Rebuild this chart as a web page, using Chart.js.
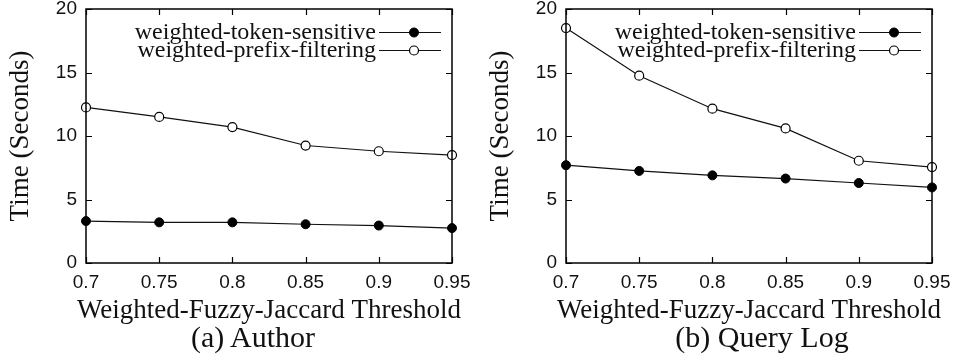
<!DOCTYPE html>
<html>
<head>
<meta charset="utf-8">
<script src="https://cdn.jsdelivr.net/npm/chart.js@4"></script>
<style>
  body { margin: 0; background: #fff; }
  #wrap { position: relative; width: 955px; height: 362px; overflow: hidden; }
  canvas { position: absolute; top: 0; }
  .caption { position: absolute; font-family: "Liberation Serif", serif; font-size: 30px; color: #111;
             transform: translate(-50%, -50%); white-space: nowrap; }
</style>
</head>
<body>
<div id="wrap">
  <canvas id="chartA" width="478" height="362" style="left:0px"></canvas>
  <canvas id="chartB" width="475" height="362" style="left:480px"></canvas>
  <div class="caption" style="left:253px; top:337px">(a) Author</div>
  <div class="caption" style="left:762px; top:337px">(b) Query Log</div>
</div>
<script>
// values
const thresholds = ['0.7', '0.75', '0.8', '0.85', '0.9', '0.95'];
const yTicks = [0, 5, 10, 15, 20];
const seriesNames = ['weighted-token-sensitive', 'weighted-prefix-filtering'];
const xTitle = 'Weighted-Fuzzy-Jaccard Threshold';
const yTitle = 'Time (Seconds)';

const authorToken  = [3.3, 3.2, 3.2, 3.05, 2.95, 2.75];
const authorPrefix = [12.25, 11.5, 10.7, 9.25, 8.8, 8.5];
const queryToken   = [7.7, 7.25, 6.9, 6.65, 6.3, 5.95];
const queryPrefix  = [18.5, 14.75, 12.15, 10.6, 8.05, 7.55];

const SANS = '"Liberation Sans", Arial, sans-serif';
const SERIF = '"Liberation Serif", "Times New Roman", serif';

// frame + inward tick marks on all four sides (gnuplot style), plus the x title
// (drawn here so chart.js doesn't squeeze it to the plot width)
const framePlugin = {
  id: 'frame',
  afterDraw(chart) {
    const {ctx, chartArea: a, scales} = chart;
    ctx.save();
    ctx.strokeStyle = '#000';
    ctx.lineWidth = 1.2;
    ctx.beginPath();
    scales.x.ticks.forEach((t, i) => {
      const px = Math.round(scales.x.getPixelForTick(i)) + 0.5;
      ctx.moveTo(px, a.bottom); ctx.lineTo(px, a.bottom - 6);
      ctx.moveTo(px, a.top); ctx.lineTo(px, a.top + 6);
    });
    scales.y.ticks.forEach((t, i) => {
      const py = Math.round(scales.y.getPixelForTick(i)) + 0.5;
      ctx.moveTo(a.left, py); ctx.lineTo(a.left + 6, py);
      ctx.moveTo(a.right, py); ctx.lineTo(a.right - 6, py);
    });
    ctx.stroke();
    ctx.lineWidth = 1.5;
    ctx.strokeRect(a.left, a.top, a.right - a.left, a.bottom - a.top);

    ctx.fillStyle = '#111';
    ctx.font = '27px ' + SERIF;
    ctx.textAlign = 'center';
    ctx.textBaseline = 'middle';
    ctx.fillText(xTitle, (a.left + a.right) / 2, 311);
    ctx.restore();
  }
};

// key in the top right corner: text right-aligned, sample on the right
const keyPlugin = {
  id: 'key',
  afterDraw(chart) {
    const {ctx} = chart;
    const textRight = 376, lineL = 379, lineR = 441, markX = 414;
    const rows = [32, 50];
    ctx.save();
    ctx.font = '24px ' + SERIF;
    ctx.textAlign = 'right';
    ctx.textBaseline = 'middle';
    chart.data.datasets.forEach((ds, i) => {
      const y = rows[i];
      ctx.fillStyle = '#111';
      ctx.fillText(ds.label, textRight, y + 1);
      ctx.strokeStyle = ds.borderColor;
      ctx.lineWidth = 1.2;
      ctx.beginPath();
      ctx.moveTo(lineL, y + 0.5); ctx.lineTo(lineR, y + 0.5);
      ctx.stroke();
      ctx.beginPath();
      ctx.arc(markX, y + 0.5, ds.pointRadius, 0, Math.PI * 2);
      ctx.fillStyle = ds.pointBackgroundColor;
      ctx.fill();
      ctx.strokeStyle = ds.pointBorderColor;
      ctx.lineWidth = ds.pointBorderWidth;
      ctx.stroke();
    });
    ctx.restore();
  }
};

function makeChart(id, tokenData, prefixData, rightPad) {
  return new Chart(document.getElementById(id), {
    type: 'line',
    data: {
      labels: thresholds,
      datasets: [{
        label: seriesNames[0],
        data: tokenData,
        borderColor: '#111',
        borderWidth: 1.2,
        pointRadius: 4.5,
        pointBackgroundColor: '#000',
        pointBorderColor: '#000',
        pointBorderWidth: 1,
        tension: 0
      }, {
        label: seriesNames[1],
        data: prefixData,
        borderColor: '#111',
        borderWidth: 1.2,
        pointRadius: 4.5,
        pointBackgroundColor: '#fff',
        pointBorderColor: '#000',
        pointBorderWidth: 1.2,
        tension: 0
      }]
    },
    options: {
      responsive: false,
      devicePixelRatio: 1,
      animation: false,
      layout: { padding: { left: 0, top: 9, right: rightPad, bottom: 0 } },
      plugins: { legend: { display: false }, title: { display: false }, tooltip: { enabled: false } },
      elements: { point: { hoverRadius: 4.5 } },
      scales: {
        x: {
          type: 'category',
          offset: false,
          grid: { display: false, drawTicks: false },
          border: { display: false },
          ticks: { color: '#111', font: { family: SANS, size: 19 }, padding: 8, maxRotation: 0, autoSkip: false },
          title: { display: false },
          afterFit(s) { s.height = 99; s.paddingLeft = 0; s.paddingRight = 0; }
        },
        y: {
          min: 0,
          max: 20,
          grid: { display: false, drawTicks: false },
          border: { display: false },
          afterBuildTicks(s) { s.ticks = yTicks.map(v => ({ value: v })); },
          ticks: { color: '#111', font: { family: SANS, size: 19 }, padding: 9 },
          title: {
            display: true,
            text: yTitle,
            color: '#111',
            font: { family: SERIF, size: 27 },
            padding: { top: 5, bottom: 0 }
          },
          afterFit(s) { s.width = 86; s.paddingTop = 0; s.paddingBottom = 0; }
        }
      }
    },
    plugins: [framePlugin, keyPlugin]
  });
}

makeChart('chartA', authorToken, authorPrefix, 26);
makeChart('chartB', queryToken, queryPrefix, 23);
</script>
</body>
</html>
